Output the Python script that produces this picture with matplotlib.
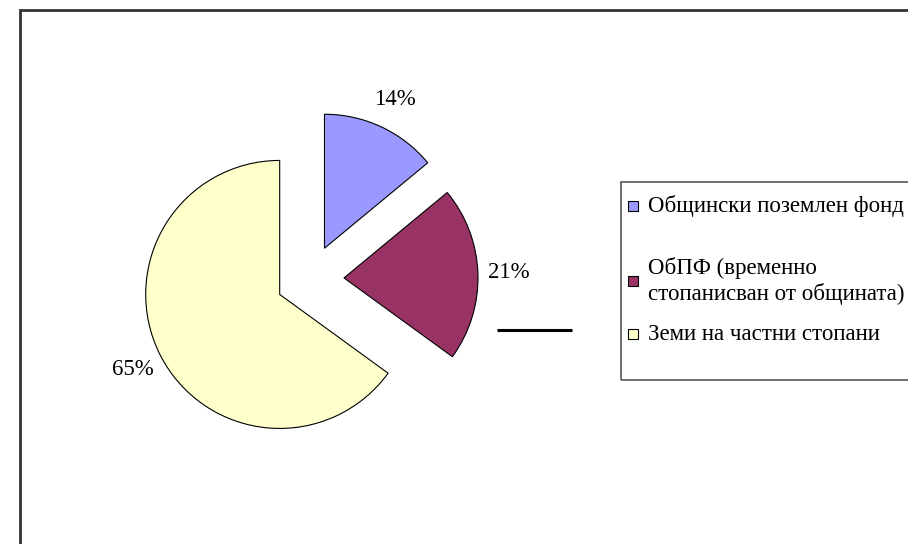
import matplotlib.pyplot as plt
from matplotlib.patches import Rectangle

plt.rcParams['font.family'] = ['Liberation Serif', 'DejaVu Serif']

# data
labels = ['Общински поземлен фонд',
          'ОбПФ (временно\nстопанисван от общината)',
          'Земи на частни стопани']
shares = [14, 21, 65]
colors = ['#9999FF', '#993366', '#FFFFCC']

W, H = 908, 544
fig = plt.figure(figsize=(W / 100, H / 100), dpi=100)
ax = fig.add_axes([0, 0, 1, 1])

# pie in pixel units (y up)
wedges, _, pcts = ax.pie(shares, colors=colors, startangle=90, counterclock=False,
                         center=(310, H - 279), radius=134, explode=[34] * 3,
                         autopct='%1.0f%%', pctdistance=1.23,
                         wedgeprops=dict(edgecolor='black', linewidth=0.8),
                         textprops=dict(fontsize=16.5, color='black'))

ax.set_xlim(0, W)
ax.set_ylim(0, H)
ax.set_aspect('equal')
ax.axis('off')

# outer chart border (clipped at right/bottom)
ax.add_patch(Rectangle((20, -50), 1000, H - 10 + 50, fill=False,
                       edgecolor='#333333', linewidth=2))

# legend box
ax.add_patch(Rectangle((621, H - 380), 400, 198, fill=False,
                       edgecolor='#555555', linewidth=1.2))
leg_y = [206, 281, 334]
for lab, col, y in zip(labels, colors, leg_y):
    ax.add_patch(Rectangle((628, H - y - 5), 10, 10, facecolor=col,
                           edgecolor='black', linewidth=0.8))
    ax.text(648, H - y, lab, fontsize=16.5, ha='left', va='center',
            linespacing=1.2)

# stray leader line
ax.plot([497, 572], [H - 330, H - 330], color='black', linewidth=2.2,
        solid_capstyle='butt')

plt.savefig('out.png', dpi=100)
